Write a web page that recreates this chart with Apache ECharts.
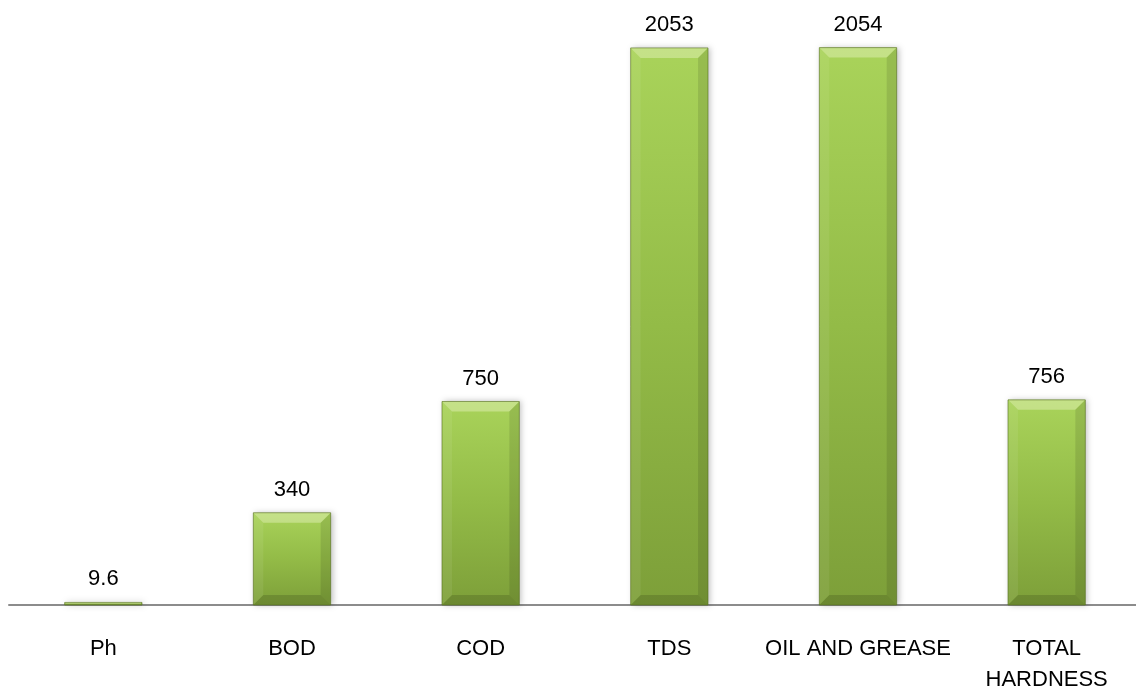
<!DOCTYPE html>
<html>
<head>
<meta charset="utf-8">
<script src="https://cdn.jsdelivr.net/npm/echarts@6/dist/echarts.min.js"></script>
<style>html,body{margin:0;padding:0;background:#fff;overflow:hidden;width:1136px;height:695px}#c{width:1141px;height:695px}</style>
</head>
<body>
<div id="c"></div>
<script>
const categories = ['Ph', 'BOD', 'COD', 'TDS', 'OIL AND GREASE', 'TOTAL\nHARDNESS'];
const values = [9.6, 340, 750, 2053, 2054, 756];

const chart = echarts.init(document.getElementById('c'));
const BAR_FRAC = 0.41;

function bevel(params, api) {
  const idx = api.value(0);
  const val = api.value(1);
  const top = api.coord([idx, val]);
  const bot = api.coord([idx, 0]);
  const w = api.size([1, 0])[0] * BAR_FRAC;
  const x0 = top[0] - w / 2, x1 = top[0] + w / 2, y0 = top[1], y1 = bot[1];
  const b = Math.min(10, (y1 - y0) / 2, w / 2);
  const poly = (pts, fill) => ({ type: 'polygon', shape: { points: pts }, style: { fill: fill }, silent: true });
  return {
    type: 'group',
    children: [
      poly([[x0, y0], [x1, y0], [x1 - b, y0 + b], [x0 + b, y0 + b]], 'rgba(255,255,230,0.33)'),
      poly([[x0, y0], [x0 + b, y0 + b], [x0 + b, y1 - b], [x0, y1]], 'rgba(255,255,255,0.07)'),
      poly([[x1, y0], [x1 - b, y0 + b], [x1 - b, y1 - b], [x1, y1]], 'rgba(0,0,0,0.10)'),
      poly([[x0, y1], [x1, y1], [x1 - b, y1 - b], [x0 + b, y1 - b]], 'rgba(0,0,0,0.14)'),
      { type: 'rect', shape: { x: x0, y: y0, width: w, height: y1 - y0 }, style: { fill: 'none', stroke: 'rgba(85,110,30,0.6)', lineWidth: 1 }, silent: true }
    ]
  };
}

chart.setOption({
  animation: false,
  grid: { left: 9, right: 0, top: 8, bottom: 90, containLabel: false },
  xAxis: {
    type: 'category',
    data: categories,
    axisLine: { lineStyle: { color: '#8c8c8c', width: 2 } },
    axisTick: { show: false },
    axisLabel: { color: '#000', fontFamily: 'Liberation Sans', fontSize: 22, lineHeight: 31, margin: 28, interval: 0 }
  },
  yAxis: { type: 'value', min: 0, max: 2200, show: false, splitLine: { show: false } },
  series: [
    {
      type: 'bar',
      data: values,
      barWidth: (BAR_FRAC * 100) + '%',
      z: 2,
      itemStyle: {
        color: { type: 'linear', x: 0, y: 0, x2: 0, y2: 1, colorStops: [
          { offset: 0, color: '#a9d35a' }, { offset: 0.5, color: '#93bb47' }, { offset: 1, color: '#7d9f39' }
        ] },
        shadowColor: 'rgba(0,0,0,0.25)', shadowBlur: 6, shadowOffsetX: 2, shadowOffsetY: 0
      },
      label: { show: true, position: 'top', distance: 12, color: '#000', fontFamily: 'Liberation Sans', fontSize: 22 }
    },
    {
      type: 'custom',
      z: 3,
      renderItem: bevel,
      data: values.map((v, i) => [i, v])
    }
  ]
});
</script>
</body>
</html>
